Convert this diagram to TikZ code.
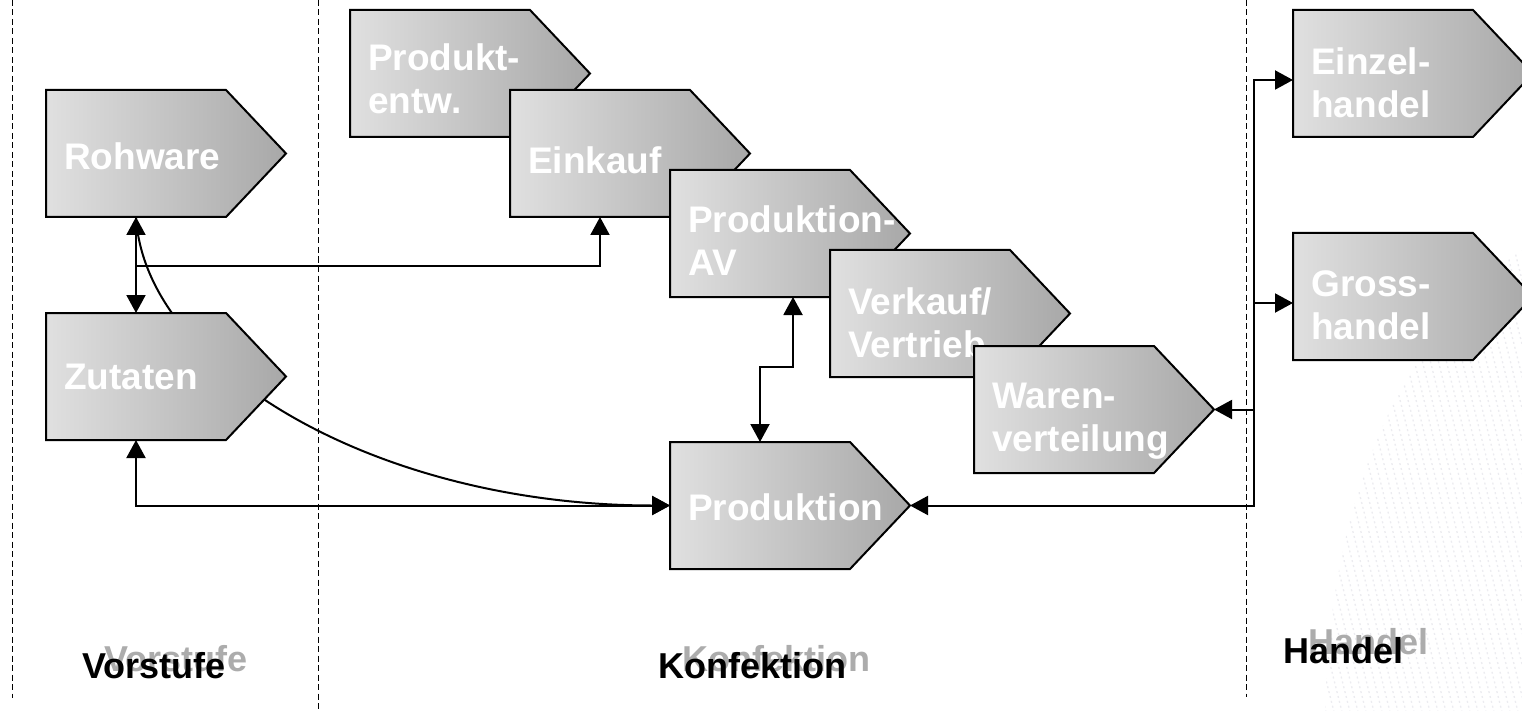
\documentclass[tikz,border=0pt]{standalone}
\usepackage{fontspec}
\setmainfont{Liberation Sans}
\usetikzlibrary{arrows.meta,calc}
\pgfdeclarelayer{background}
\pgfsetlayers{background,main}

\definecolor{boxlight}{RGB}{224,224,224}
\definecolor{boxdark}{RGB}{168,168,168}
\definecolor{shadowtext}{RGB}{172,172,172}
\definecolor{weavegray}{RGB}{236,236,240}

\tikzset{
  boxbody/.style={rectangle, anchor=north west, minimum width=180pt,
    minimum height=127pt, inner sep=0pt, outer sep=0pt},
  boxfill/.style={draw=black, line width=2pt, line join=miter,
    left color=boxlight, right color=boxdark},
  boxlabel/.style={anchor=north west, inner sep=0pt, align=left, text=white,
    font=\fontsize{37}{43}\selectfont\bfseries},
  conn/.style={draw=black, line width=2pt},
  divider/.style={draw=black, line width=1pt, dash pattern=on 6pt off 3.5pt},
  zonelabel/.style={anchor=north west, inner sep=0pt,
    font=\fontsize{36}{43}\selectfont\bfseries},
  weavestroke/.style={draw=weavegray, line width=1.3pt,
    dash pattern=on 2pt off 3pt},
}

% process box: rectangular body (named node), pointed right end, white label
% #1 name, #2 left, #3 top, #4 label drop from the top edge, #5 label
\newcommand\flowbox[5]{%
  \node[boxbody] (#1) at (#2,#3) {};
  \coordinate (#1-tip) at ($(#1.east)+(60,0)$);
  \path[boxfill] (#1.north west) -- (#1.north east) -- (#1-tip)
    -- (#1.south east) -- (#1.south west) -- cycle;
  \node[boxlabel] (#1-text) at ($(#1.north west)+(18,#4)$) {#5};
}

\begin{document}
\begin{tikzpicture}[x=1pt, y=-1pt, >={Triangle[length=18pt,width=19pt]}]
\useasboundingbox (0,0) rectangle (1522,711);
\clip (0,0) rectangle (1522,711);

% woven fabric texture in the lower right corner
\begin{pgfonlayer}{background}
  \begin{scope}
    \clip (1522,250) .. controls (1420,320) and (1330,470) .. (1325,711)
      -- (1522,711) -- cycle;
    \foreach \k in {0,...,48} {
      \draw[weavestroke] (1200+8*\k,240) -- ++(120,480);
    }
  \end{scope}
\end{pgfonlayer}

% zone dividers
\draw[divider] (12,0) -- (12,698);
\draw[divider] (318,0) -- (318,711);
\draw[divider] (1246,0) -- (1246,697);

% process boxes
\flowbox{rohware}{46}{90}{52}{Rohware}
\flowbox{zutaten}{46}{313}{51}{Zutaten}
\flowbox{entw}{350}{10}{33}{Produkt-\\entw.}
\flowbox{einkauf}{510}{90}{56}{Einkauf}
\flowbox{av}{670}{170}{35}{Produktion-\\AV}
\flowbox{vertrieb}{830}{250}{37}{Verkauf/\\Vertrieb}
\flowbox{waren}{974}{346}{37}{Waren-\\verteilung}
\flowbox{prod}{670}{442}{51}{Produktion}
\flowbox{einzel}{1293}{10}{37}{Einzel-\\handel}
\flowbox{gross}{1293}{233}{37}{Gross-\\handel}

% zone labels with their grey shadows
\node[zonelabel, text=shadowtext] (vorstufe-sh) at (104,645) {Vorstufe};
\node[zonelabel] (vorstufe) at (82,652) {Vorstufe};
\node[zonelabel, text=shadowtext] (konf-sh) at (682,645) {Konfektion};
\node[zonelabel] (konf) at (658,652) {Konfektion};
\node[zonelabel, text=shadowtext] (handel-sh) at (1308,628) {Handel};
\node[zonelabel] (handel) at (1283,637) {Handel};

% connectors
\coordinate (rowbranch) at ($(rohware.south)+(0,49)$);
\coordinate (bus) at (1254,0);
\coordinate (einzel-in) at ($(einzel.west)+(0,6.5)$);
\coordinate (gross-in) at ($(gross.west)+(0,6.5)$);

\draw[conn, <->] (rohware.south) -- (zutaten.north);
\draw[conn, ->] (rowbranch) -| (einkauf.south);
\draw[conn, <->] (zutaten.south) |- (prod.west);
\draw[conn, <->] ($(av.south)+(33,0)$) -- ++(0,70) -| (prod.north);
\draw[conn, <->] (prod-tip) -- (prod-tip -| bus) |- (einzel-in);
\draw[conn, ->] (bus |- gross-in) -- (gross-in);
\draw[conn, ->] (bus |- waren-tip) -- (waren-tip);

\begin{pgfonlayer}{background}
  \draw[conn, ->] (rohware.south) .. controls +(9,153) and +(-290,0) .. (prod.west);
\end{pgfonlayer}
\end{tikzpicture}
\end{document}
